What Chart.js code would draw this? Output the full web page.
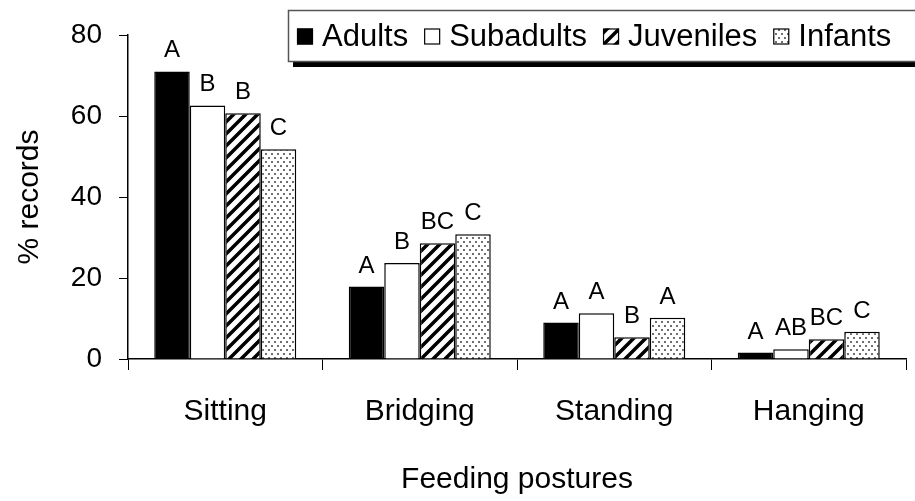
<!DOCTYPE html>
<html>
<head>
<meta charset="utf-8">
<script src="https://cdn.jsdelivr.net/npm/chart.js@4.4.1/dist/chart.umd.min.js"></script>
<style>
  html, body { margin: 0; padding: 0; background: #fff; }
</style>
</head>
<body>
<canvas id="chart" width="915" height="501"></canvas>
<script>
const postures = ['Sitting', 'Bridging', 'Standing', 'Hanging'];
const groups = ['Adults', 'Subadults', 'Juveniles', 'Infants'];

const adults = [71.0, 17.9, 9.0, 1.6];
const subadults = [62.6, 23.7, 11.3, 2.4];
const juveniles = [60.7, 28.6, 5.4, 4.9];
const infants = [51.8, 30.8, 10.2, 6.7];

const adultsLetters = ['A', 'A', 'A', 'A'];
const subadultsLetters = ['B', 'B', 'A', 'AB'];
const juvenilesLetters = ['B', 'BC', 'B', 'BC'];
const infantsLetters = ['C', 'C', 'A', 'C'];

const yTicks = [0, 20, 40, 60, 80];

const FONT = "'Liberation Sans', Arial, sans-serif";
const canvas = document.getElementById('chart');
const ctx = canvas.getContext('2d');

function stripes() {
  const s = 12;
  const c = document.createElement('canvas');
  c.width = s; c.height = s;
  const g = c.getContext('2d');
  g.fillStyle = '#fff';
  g.fillRect(0, 0, s, s);
  g.strokeStyle = '#000';
  g.lineWidth = 3.5;
  g.beginPath();
  g.moveTo(-2, s + 2); g.lineTo(s + 2, -2);
  g.moveTo(-2, 2); g.lineTo(2, -2);
  g.moveTo(s - 2, s + 2); g.lineTo(s + 2, s - 2);
  g.stroke();
  return ctx.createPattern(c, 'repeat');
}

function dots() {
  const c = document.createElement('canvas');
  c.width = 6; c.height = 8;
  const g = c.getContext('2d');
  g.fillStyle = '#fff';
  g.fillRect(0, 0, 6, 8);
  g.fillStyle = '#707070';
  g.fillRect(1, 1, 2, 2);
  g.fillRect(4, 5, 2, 2);
  return ctx.createPattern(c, 'repeat');
}

// letters above each bar
const barLetters = {
  id: 'barLetters',
  afterDatasetsDraw(chart) {
    const c = chart.ctx;
    c.save();
    c.font = '24px ' + FONT;
    c.fillStyle = '#000';
    c.textAlign = 'center';
    c.textBaseline = 'alphabetic';
    chart.data.datasets.forEach((ds, i) => {
      chart.getDatasetMeta(i).data.forEach((bar, j) => {
        c.fillText(ds.letters[j], bar.x, bar.y - 14);
      });
    });
    c.restore();
  }
};

// boxed legend with drop shadow
const boxLegend = {
  id: 'boxLegend',
  afterDraw(chart) {
    const c = chart.ctx;
    const x0 = 288, y0 = 10, h = 51;
    c.save();
    c.fillStyle = '#000';
    c.fillRect(x0 + 5, y0 + 5, 700, h + 1);
    c.fillStyle = '#fff';
    c.fillRect(x0, y0, 700, h);
    c.strokeStyle = '#555';
    c.lineWidth = 1.5;
    c.strokeRect(x0 + 0.5, y0 + 0.5, 700, h);
    c.font = '31px ' + FONT;
    c.textBaseline = 'middle';
    let x = 297;
    const cy = y0 + h / 2 + 1;
    chart.data.datasets.forEach((ds) => {
      c.fillStyle = ds.backgroundColor;
      c.fillRect(x, cy - 8, 16, 16);
      c.strokeStyle = '#000';
      c.lineWidth = 1.2;
      c.strokeRect(x + 0.5, cy - 7.5, 15, 15);
      x += 25;
      c.fillStyle = '#000';
      c.fillText(ds.label, x, cy + 1);
      x += c.measureText(ds.label).width + 16;
    });
    c.restore();
  }
};

const border = { color: '#000', width: 1.5 };

new Chart(canvas, {
  type: 'bar',
  data: {
    labels: postures,
    datasets: [
      { label: groups[0], data: adults, letters: adultsLetters, backgroundColor: '#000' },
      { label: groups[1], data: subadults, letters: subadultsLetters, backgroundColor: '#fff' },
      { label: groups[2], data: juveniles, letters: juvenilesLetters, backgroundColor: stripes() },
      { label: groups[3], data: infants, letters: infantsLetters, backgroundColor: dots() }
    ].map((d) => Object.assign(d, {
      borderColor: '#000',
      borderWidth: 1.5,
      categoryPercentage: 0.73,
      barPercentage: 1.0
    }))
  },
  options: {
    responsive: false,
    animation: false,
    layout: { padding: { top: 35, right: 9, left: 0, bottom: 0 } },
    plugins: {
      legend: { display: false },
      tooltip: { enabled: false }
    },
    scales: {
      x: {
        offset: true,
        grid: { offset: true, drawOnChartArea: false, tickLength: 11, color: '#000' },
        border: border,
        ticks: { color: '#000', padding: 24, font: { family: FONT, size: 30 } },
        title: {
          display: true,
          text: 'Feeding postures',
          color: '#000',
          padding: { top: 0, bottom: 3 },
          font: { family: FONT, size: 30 }
        },
        afterFit(scale) { scale.height = 142; }
      },
      y: {
        min: 0,
        max: 80,
        afterBuildTicks(scale) { scale.ticks = yTicks.map((v) => ({ value: v })); },
        grid: { drawOnChartArea: false, tickLength: 9, color: '#000' },
        border: border,
        ticks: { color: '#000', padding: 17, font: { family: FONT, size: 28 } },
        title: {
          display: true,
          text: '% records',
          color: '#000',
          padding: { top: 12, bottom: 0 },
          font: { family: FONT, size: 30 }
        },
        afterFit(scale) { scale.width = 128; }
      }
    }
  },
  plugins: [barLetters, boxLegend]
});
</script>
</body>
</html>
